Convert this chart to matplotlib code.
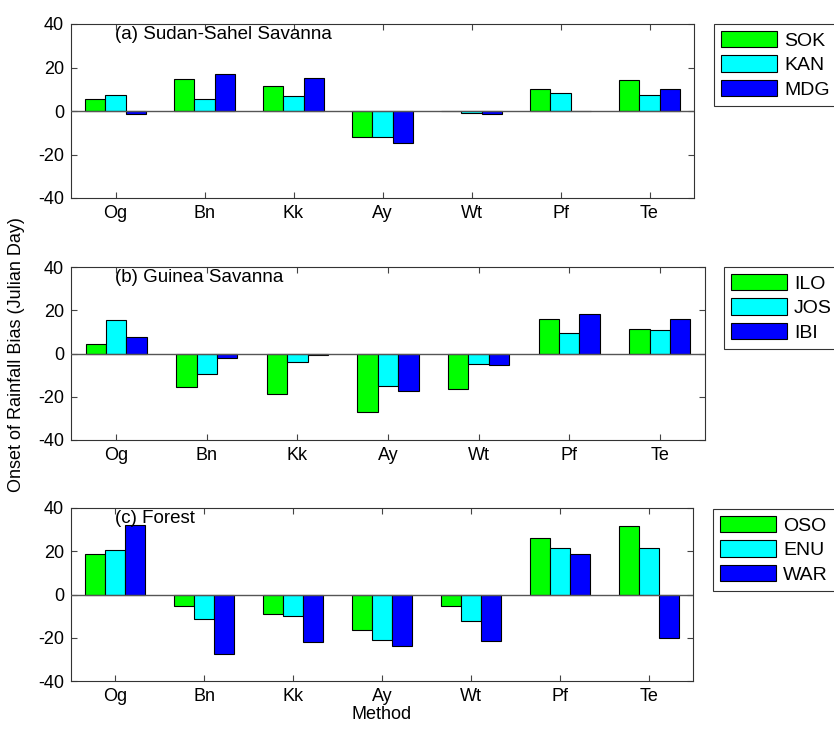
import matplotlib.pyplot as plt
import numpy as np

plt.rcParams['font.family'] = ['Liberation Sans', 'DejaVu Sans']
plt.rcParams['axes.unicode_minus'] = False

methods = ["Og", "Bn", "Kk", "Ay", "Wt", "Pf", "Te"]

# (a) Sudan-Sahel Savanna
sok = [5.6, 14.7, 11.6, -12.1, 0.0, 10.1, 14.2]
kan = [7.2, 5.6, 6.7, -12.1, -1.1, 8.2, 7.2]
mdg = [-1.2, 17.0, 15.4, -14.7, -1.5, 0.0, 10.1]

# (b) Guinea Savanna
ilo = [4.6, -15.3, -18.8, -27.1, -16.4, 16.1, 11.5]
jos = [15.3, -9.3, -4.1, -15.2, -4.9, 9.5, 10.7]
ibi = [7.8, -2.0, -0.9, -17.2, -5.4, 18.4, 16.1]

# (c) Forest
oso = [18.8, -5.1, -9.0, -16.2, -5.1, 26.0, 31.5]
enu = [20.4, -11.3, -10.0, -21.1, -12.4, 21.6, 21.6]
war = [32.3, -27.3, -22.1, -23.6, -21.6, 18.8, -20.2]

panels = [
    ("(a) Sudan-Sahel Savanna", [sok, kan, mdg], ["SOK", "KAN", "MDG"]),
    ("(b) Guinea Savanna", [ilo, jos, ibi], ["ILO", "JOS", "IBI"]),
    ("(c) Forest", [oso, enu, war], ["OSO", "ENU", "WAR"]),
]

colors = ["#00ff00", "#00ffff", "#0000ff"]

W, H = 834, 730
fig = plt.figure(figsize=(W / 100, H / 100), dpi=100)

# axes boxes in pixels: left, right, top, bottom
boxes = [(71, 694, 24, 198), (71, 705, 267, 440), (71, 693, 508, 681)]
# legend upper-left corners in pixels
leg_pos = [(714, 24), (724, 267), (713, 509)]

x = np.arange(1, len(methods) + 1)
bw = 0.225
fs = 13

for i, (title, series, names) in enumerate(panels):
    l, r, t, b = boxes[i]
    ax = fig.add_axes([l / W, 1 - b / H, (r - l) / W, (b - t) / H])
    handles = []
    for j, vals in enumerate(series):
        h = ax.bar(x + (j - 1) * bw, vals, width=bw, color=colors[j],
                   edgecolor="black", linewidth=0.8, zorder=2)
        handles.append(h)
    ax.axhline(0, color="#555555", linewidth=1.0, zorder=3)
    ax.set_xlim(0.5, 7.5)
    ax.set_ylim(-40, 40)
    ax.set_yticks([-40, -20, 0, 20, 40])
    ax.set_xticks(x)
    ax.set_xticklabels(methods)
    ax.tick_params(direction="in", top=True, right=True, labelsize=fs,
                   length=4, pad=5, color="#444444")
    for s in ax.spines.values():
        s.set_linewidth(0.8)
        s.set_color("#333333")
    ax.text(0.99, 35, title, fontsize=13.5, va="center", ha="left")
    lx, ly = leg_pos[i]
    leg = fig.legend(handles, names, loc="upper left",
                     bbox_to_anchor=(lx / W, 1 - ly / H), fontsize=14,
                     frameon=True, fancybox=False, edgecolor="black",
                     handlelength=2.9, handleheight=0.9, labelspacing=0.3,
                     borderpad=0.35, handletextpad=0.35, borderaxespad=0)
    leg.get_frame().set_linewidth(0.8)
    if i == 2:
        ax.set_xlabel("Method", fontsize=fs, labelpad=1)

fig.text(17 / W, 1 - 355 / H, "Onset of Rainfall Bias (Julian Day)",
         rotation=90, va="center", ha="center", fontsize=fs)

fig.savefig("out.png", dpi=100)
